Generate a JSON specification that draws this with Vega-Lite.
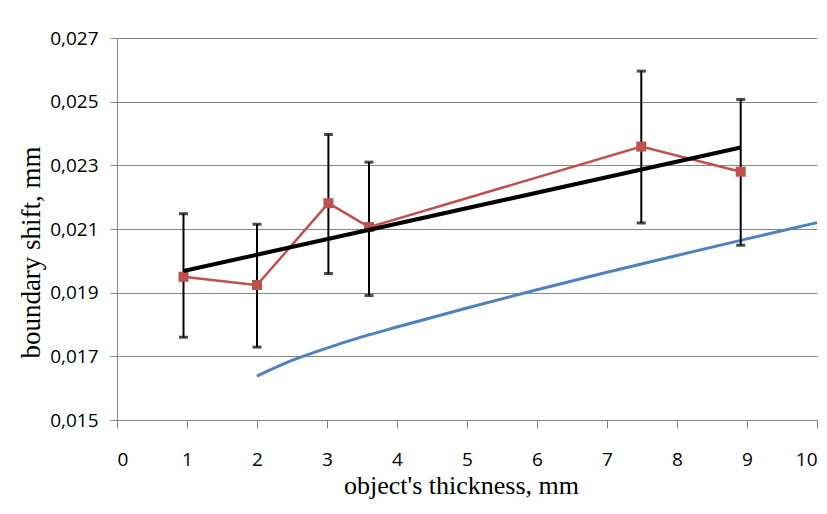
{
  "$schema": "https://vega.github.io/schema/vega-lite/v6.json",
  "width": 700,
  "height": 382,
  "autosize": {"type": "none"},
  "padding": {"left": 117, "top": 38, "right": 10, "bottom": 94},
  "background": "white",
  "config": {
    "view": {"stroke": null},
    "locale": {"number": {"decimal": ",", "thousands": " ", "grouping": [3], "currency": ["", ""]}},
    "axisX": {
      "grid": false,
      "domainColor": "#868686",
      "tickColor": "#868686",
      "tickSize": 8,
      "labelFont": "Open Sans",
      "labelFontSize": 19,
      "labelColor": "#000000",
      "labelPadding": 22,
      "titleFont": "Liberation Serif",
      "titleFontSize": 26,
      "titleFontWeight": "normal",
      "titleColor": "#000000",
      "titleX": 344,
      "titleY": 52,
      "titleBaseline": "top"
    },
    "axisY": {
      "grid": true,
      "gridColor": "#868686",
      "gridWidth": 1,
      "domainColor": "#868686",
      "tickColor": "#868686",
      "tickSize": 7,
      "labelFont": "Open Sans",
      "labelFontSize": 19,
      "labelColor": "#000000",
      "labelPadding": 12,
      "titleFont": "Liberation Serif",
      "titleFontSize": 27,
      "titleFontWeight": "normal",
      "titleColor": "#000000",
      "titleY": 214,
      "titlePadding": 4
    }
  },
  "datasets": {
    "measured": [
      {"x": 0.95, "y": 0.0195, "lo": 0.0176, "hi": 0.02148},
      {"x": 2.0, "y": 0.01924, "lo": 0.01729, "hi": 0.02115},
      {"x": 3.02, "y": 0.02181, "lo": 0.0196, "hi": 0.02397},
      {"x": 3.6, "y": 0.02106, "lo": 0.01891, "hi": 0.0231},
      {"x": 7.49, "y": 0.02359, "lo": 0.02119, "hi": 0.02596},
      {"x": 8.91, "y": 0.0228, "lo": 0.02049, "hi": 0.02507}
    ],
    "fit": [
      {"x": 0.95, "y": 0.01968},
      {"x": 8.91, "y": 0.02356}
    ],
    "model": [
      {"x": 2.0, "y": 0.01638},
      {"x": 2.5, "y": 0.01687},
      {"x": 3.0, "y": 0.01726},
      {"x": 3.5, "y": 0.01761},
      {"x": 4.0, "y": 0.01792},
      {"x": 5.0, "y": 0.01852},
      {"x": 6.0, "y": 0.01909},
      {"x": 7.0, "y": 0.01964},
      {"x": 8.0, "y": 0.02017},
      {"x": 9.0, "y": 0.02069},
      {"x": 10.0, "y": 0.0212}
    ]
  },
  "layer": [
    {
      "data": {"name": "model"},
      "mark": {"type": "line", "color": "#4F81BD", "strokeWidth": 3, "interpolate": "monotone"},
      "encoding": {
        "x": {"field": "x", "type": "quantitative", "scale": {"domain": [0, 10], "nice": false}, "title": "object's thickness, mm",
              "axis": {"values": [0, 1, 2, 3, 4, 5, 6, 7, 8, 9, 10], "format": "d"}},
        "y": {"field": "y", "type": "quantitative", "scale": {"domain": [0.015, 0.027], "nice": false, "zero": false}, "title": "boundary shift, mm",
              "axis": {"values": [0.015, 0.017, 0.019, 0.021, 0.023, 0.025, 0.027], "format": ".3f"}}
      }
    },
    {
      "data": {"name": "measured"},
      "mark": {"type": "rule", "color": "#000000", "strokeWidth": 2},
      "encoding": {
        "x": {"field": "x", "type": "quantitative", "title": "object's thickness, mm"},
        "y": {"field": "lo", "type": "quantitative", "title": "boundary shift, mm"},
        "y2": {"field": "hi"}
      }
    },
    {
      "data": {"name": "measured"},
      "mark": {"type": "tick", "orient": "horizontal", "color": "#000000", "size": 9, "thickness": 3},
      "encoding": {
        "x": {"field": "x", "type": "quantitative", "title": "object's thickness, mm"},
        "y": {"field": "lo", "type": "quantitative", "title": "boundary shift, mm"}
      }
    },
    {
      "data": {"name": "measured"},
      "mark": {"type": "tick", "orient": "horizontal", "color": "#000000", "size": 9, "thickness": 3},
      "encoding": {
        "x": {"field": "x", "type": "quantitative", "title": "object's thickness, mm"},
        "y": {"field": "hi", "type": "quantitative", "title": "boundary shift, mm"}
      }
    },
    {
      "data": {"name": "measured"},
      "mark": {"type": "line", "color": "#C0504D", "strokeWidth": 2.5},
      "encoding": {
        "x": {"field": "x", "type": "quantitative", "title": "object's thickness, mm"},
        "y": {"field": "y", "type": "quantitative", "title": "boundary shift, mm"}
      }
    },
    {
      "data": {"name": "measured"},
      "mark": {"type": "square", "color": "#C0504D", "filled": true, "opacity": 1, "size": 100},
      "encoding": {
        "x": {"field": "x", "type": "quantitative", "title": "object's thickness, mm"},
        "y": {"field": "y", "type": "quantitative", "title": "boundary shift, mm"}
      }
    },
    {
      "data": {"name": "fit"},
      "mark": {"type": "line", "color": "#000000", "strokeWidth": 4},
      "encoding": {
        "x": {"field": "x", "type": "quantitative", "title": "object's thickness, mm"},
        "y": {"field": "y", "type": "quantitative", "title": "boundary shift, mm"}
      }
    }
  ]
}
